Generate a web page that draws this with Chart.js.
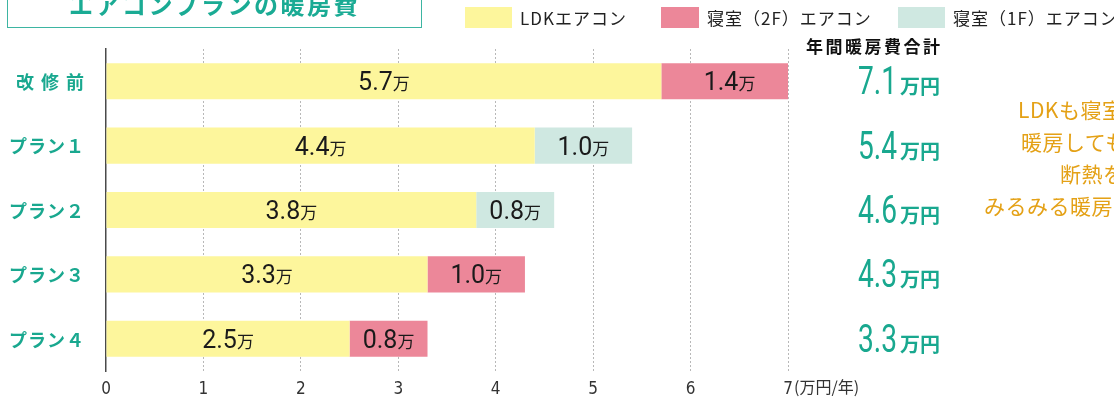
<!DOCTYPE html>
<html lang="ja">
<head>
<meta charset="utf-8">
<title>エアコンプランの暖房費</title>
<script src="https://cdn.jsdelivr.net/npm/chart.js@4.4.1/dist/chart.umd.min.js"></script>
<style>
  html, body { margin: 0; padding: 0; background: #fff; overflow: hidden; }
  body { width: 1114px; height: 399px; position: relative; font-family: "Noto Sans CJK JP", sans-serif; }
  #wrap { position: absolute; left: 0; top: 0; width: 1114px; height: 399px; }
  .title-box { position: absolute; left: 7px; top: -23px; width: 415px; height: 51px; box-sizing: border-box; border: 1px solid #3db5a2; }
  .title-box span { position: absolute; left: 0; right: 0; top: 14px; text-align: center; font-weight: 700; font-size: 24px; line-height: 24px; letter-spacing: 2.5px; color: #1aab94; }
  .legend-item { position: absolute; top: 7px; height: 21px; display: flex; align-items: center; white-space: nowrap; }
  .legend-item i { display: block; height: 21px; margin-right: 8px; }
  .legend-item span { font-size: 17px; line-height: 21px; color: #222; letter-spacing: 1px; }
  .note { position: absolute; color: #e4a116; font-size: 21px; line-height: 32px; white-space: nowrap; letter-spacing: 0.5px; }
</style>
</head>
<body>
<div id="wrap"><canvas id="chart"></canvas></div>
<div class="title-box"><span>エアコンプランの暖房費</span></div>
<div id="legend"></div>
<div class="note" style="left:1018px; top:93px;">LDKも寝室も</div>
<div class="note" style="left:1021px; top:125px;">暖房しても</div>
<div class="note" style="left:1060px; top:157px;">断熱を高めれば</div>
<div class="note" style="left:984px; top:189px;">みるみる暖房費ダウン</div>
<script>
// 年間暖房費（万円/年）
const categories = ['改修前', 'プラン１', 'プラン２', 'プラン３', 'プラン４'];
const ldkCost = [5.7, 4.4, 3.8, 3.3, 2.5];
const bedroom2fCost = [1.4, null, null, 1.0, 0.8];
const bedroom1fCost = [null, 1.0, 0.8, null, null];
const seriesNames = ['LDKエアコン', '寝室（2F）エアコン', '寝室（1F）エアコン'];
const xTicks = [0, 1, 2, 3, 4, 5, 6, 7];
const unitLabel = '(万円/年)';
const totalsHeader = '年間暖房費合計';

const colors = ['#fdf69c', '#ec8799', '#cfe8e1'];
const teal = '#19a88f';
const numFont = 'Roboto, "Liberation Sans", sans-serif';
const jpFont = '"Noto Sans CJK JP", sans-serif';

const totals = categories.map((_, i) =>
    [ldkCost, bedroom2fCost, bedroom1fCost].reduce((s, arr) => s + (arr[i] || 0), 0));

// legend (box widths and positions follow the printed layout)
const legendSpots = [{ left: 465, w: 47 }, { left: 661, w: 38 }, { left: 898, w: 47 }];
const legendEl = document.getElementById('legend');
seriesNames.forEach((name, i) => {
    const item = document.createElement('div');
    item.className = 'legend-item';
    item.style.left = legendSpots[i].left + 'px';
    item.innerHTML = `<i style="width:${legendSpots[i].w}px;background:${colors[i]}"></i><span>${name}</span>`;
    legendEl.appendChild(item);
});

// number + small 万 inside the bars
const drawAmount = (ctx, value, cx, cy) => {
    const num = value.toFixed(1);
    ctx.font = `400 25px ${numFont}`;
    const wNum = ctx.measureText(num).width;
    ctx.font = `400 17px ${jpFont}`;
    const wMan = ctx.measureText('万').width;
    const x0 = cx - (wNum + wMan) / 2;
    ctx.textAlign = 'left';
    ctx.textBaseline = 'alphabetic';
    ctx.fillStyle = '#1a1a1a';
    ctx.font = `400 25px ${numFont}`;
    ctx.fillText(num, x0, cy + 9);
    ctx.font = `400 17px ${jpFont}`;
    ctx.fillText('万', x0 + wNum, cy + 9);
};

const labelsPlugin = {
    id: 'costLabels',
    afterDatasetsDraw(chart) {
        const ctx = chart.ctx;
        ctx.save();
        chart.data.datasets.forEach((ds, di) => {
            chart.getDatasetMeta(di).data.forEach((el, i) => {
                const v = ds.data[i];
                if (v == null) return;
                drawAmount(ctx, v, (el.x + el.base) / 2, el.y);
            });
        });
        ctx.restore();
    },
    afterDraw(chart) {
        const ctx = chart.ctx;
        const { chartArea } = chart;
        const yScale = chart.scales.y;
        const xScale = chart.scales.x;
        ctx.save();

        // category names
        categories.forEach((name, i) => {
            const y = yScale.getPixelForValue(i);
            const spacing = name.length === 3 ? 7 : 1;
            ctx.letterSpacing = spacing + 'px';
            ctx.font = `700 18px ${jpFont}`;
            ctx.fillStyle = teal;
            ctx.textAlign = 'right';
            ctx.textBaseline = 'middle';
            ctx.fillText(name, 84 + spacing, y + 1);
        });

        // totals column
        const right = chartArea.right + 152;
        ctx.letterSpacing = '2.5px';
        ctx.font = `700 17px ${jpFont}`;
        ctx.fillStyle = '#111';
        ctx.textAlign = 'right';
        ctx.textBaseline = 'middle';
        ctx.fillText(totalsHeader, right + 2.5, 47);
        ctx.letterSpacing = '0px';

        totals.forEach((t, i) => {
            const y = yScale.getPixelForValue(i) + 13;
            ctx.fillStyle = teal;
            ctx.textBaseline = 'alphabetic';
            ctx.font = `700 20px ${jpFont}`;
            ctx.textAlign = 'right';
            ctx.fillText('万円', right, y);
            const wYen = ctx.measureText('万円').width;
            ctx.save();
            ctx.translate(right - wYen - 3, y);
            ctx.scale(0.74, 1);
            ctx.font = `400 38px ${numFont}`;
            ctx.fillText(t.toFixed(1), 0, 0);
            ctx.restore();
        });

        // unit after the last tick
        const last = xTicks[xTicks.length - 1];
        ctx.font = `400 16px ${jpFont}`;
        ctx.fillStyle = '#333';
        ctx.textAlign = 'left';
        ctx.textBaseline = 'middle';
        ctx.fillText(unitLabel, xScale.getPixelForValue(last) + 6, chartArea.bottom + 16);
        ctx.restore();
    }
};

new Chart(document.getElementById('chart'), {
    type: 'bar',
    data: {
        labels: categories,
        datasets: [
            { label: seriesNames[0], data: ldkCost, backgroundColor: colors[0] },
            { label: seriesNames[1], data: bedroom2fCost, backgroundColor: colors[1] },
            { label: seriesNames[2], data: bedroom1fCost, backgroundColor: colors[2] }
        ].map(d => ({ ...d, barPercentage: 0.56, categoryPercentage: 1, borderWidth: 0 }))
    },
    options: {
        indexAxis: 'y',
        responsive: true,
        maintainAspectRatio: false,
        animation: false,
        layout: { padding: { top: 49, right: 326, left: 0, bottom: 0 } },
        scales: {
            x: {
                stacked: true,
                min: xTicks[0],
                max: xTicks[xTicks.length - 1],
                afterBuildTicks: (s) => { s.ticks = xTicks.map(v => ({ value: v })); },
                afterFit: (s) => { s.height = 28; },
                grid: {
                    drawTicks: false,
                    color: (c) => (c.tick && c.tick.value === 0) ? 'rgba(0,0,0,0)' : '#b8b8b8',
                    lineWidth: 1
                },
                border: { display: false, dash: [2, 2] },
                ticks: {
                    padding: 8,
                    color: '#333',
                    font: { family: '"Liberation Sans Narrow", "DejaVu Sans Condensed", sans-serif', size: 17 }
                }
            },
            y: {
                stacked: true,
                afterFit: (s) => { s.width = 106; },
                grid: { display: false },
                border: { display: true, color: '#4a4a4a', width: 1.5 },
                ticks: { display: false }
            }
        },
        plugins: {
            legend: { display: false },
            tooltip: { enabled: false }
        }
    },
    plugins: [labelsPlugin]
});
</script>
</body>
</html>
